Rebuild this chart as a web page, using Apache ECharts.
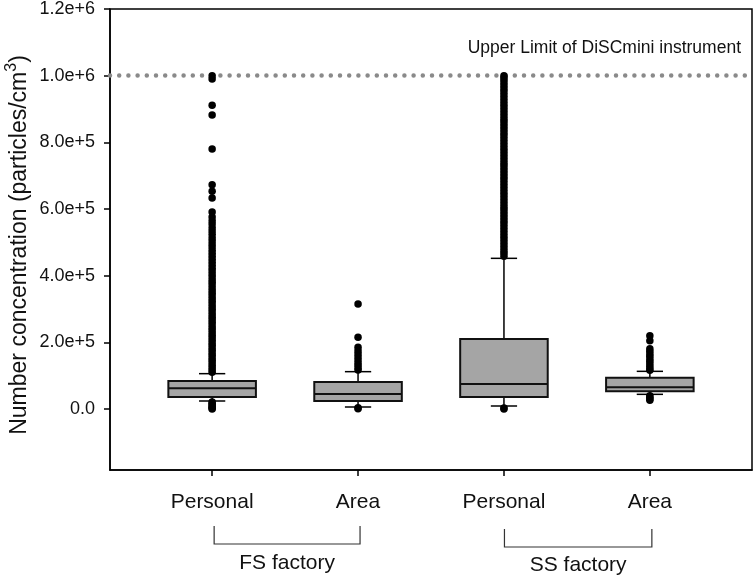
<!DOCTYPE html>
<html><head><meta charset="utf-8">
<script src="https://cdn.jsdelivr.net/npm/echarts@6/dist/echarts.min.js"></script>
<style>html,body{margin:0;padding:0;background:#fff}#c{width:756px;height:577px}</style>
</head><body><div id="c"></div>
<script>
// ---------- data ----------
const groups = ['Personal', 'Area', 'Personal', 'Area'];
const groupX = [1, 2, 3, 4];
const factories = ['FS factory', 'SS factory'];
const yTicks = [0, 200000, 400000, 600000, 800000, 1000000, 1200000];
// [lower whisker, Q1, median, Q3, upper whisker]
const boxFSPersonal = [24000, 36000, 62000, 84000, 106000];
const boxFSArea     = [6000, 24000, 45000, 81000, 112000];
const boxSSPersonal = [9000, 36000, 75000, 210000, 452000];
const boxSSArea     = [44000, 53000, 65000, 94000, 113000];
const outFSPersonal = [21000, 17000, 13000, 9000, 5000, 2000, 0,
  110000, 117000, 124000, 131000, 139000, 146000, 153000, 161000, 168000, 176000, 183000, 191000, 198000,
  206000, 214000, 221000, 229000, 237000, 244000, 252000, 260000, 268000, 275000, 283000, 291000, 299000,
  307000, 315000, 323000, 331000, 339000, 347000, 355000, 363000, 372000, 380000, 388000, 397000, 405000,
  414000, 422000, 431000, 440000, 449000, 458000, 467000, 476000, 486000, 495000, 505000, 514000, 524000,
  534000, 544000, 555000, 565000, 576000, 591000, 633000, 653000, 673000, 780000, 882000, 911000, 990000, 1000000];
const outFSArea = [4000, 1000, 117000, 123000, 131000, 139000, 148000, 157000, 166000, 175000, 185000, 215000, 315000];
const outSSPersonal = [3000, 0,
  458000, 467000, 475000, 484000, 493000, 502000, 511000, 519000, 528000, 537000, 546000, 555000, 563000,
  572000, 581000, 590000, 599000, 607000, 616000, 625000, 634000, 643000, 651000, 660000, 669000, 678000,
  687000, 695000, 704000, 713000, 722000, 731000, 739000, 748000, 757000, 766000, 775000, 783000, 792000,
  801000, 810000, 819000, 827000, 836000, 845000, 854000, 863000, 871000, 880000, 889000, 898000, 907000,
  915000, 924000, 933000, 942000, 951000, 959000, 968000, 977000, 986000, 994000, 1000000];
const outSSArea = [40000, 35000, 30000, 26000,
  116000, 121000, 128000, 136000, 143000, 150000, 158000, 165000, 173000, 181000, 205000, 220000];
const limitValue = 1000000;
const limitLabel = 'Upper Limit of DiSCmini instrument';
const yTitleMain = 'Number concentration (particles/cm';

const boxes = [boxFSPersonal, boxFSArea, boxSSPersonal, boxSSArea];
const outliers = [outFSPersonal, outFSArea, outSSPersonal, outSSArea];

const boxData = boxes.map((b, i) => [groupX[i]].concat(b));
const outData = [];
outliers.forEach((arr, i) => arr.forEach(v => outData.push([groupX[i], v])));

const FONT = '"Liberation Sans", Arial, sans-serif';

function renderBox(params, api) {
  const x = api.value(0);
  const lo = api.coord([x, api.value(1)]);
  const q1 = api.coord([x, api.value(2)]);
  const md = api.coord([x, api.value(3)]);
  const q3 = api.coord([x, api.value(4)]);
  const hi = api.coord([x, api.value(5)]);
  const half = api.size([0.3, 0])[0];
  const cap = api.size([0.09, 0])[0];
  const cx = lo[0];
  const ls = { stroke: '#000', lineWidth: 1.5 };
  return {
    type: 'group',
    children: [
      { type: 'line', shape: { x1: cx, y1: hi[1], x2: cx, y2: q3[1] }, style: ls },
      { type: 'line', shape: { x1: cx, y1: q1[1], x2: cx, y2: lo[1] }, style: ls },
      { type: 'line', shape: { x1: cx - cap, y1: hi[1], x2: cx + cap, y2: hi[1] }, style: ls },
      { type: 'line', shape: { x1: cx - cap, y1: lo[1], x2: cx + cap, y2: lo[1] }, style: ls },
      { type: 'rect', shape: { x: cx - half, y: q3[1], width: 2 * half, height: q1[1] - q3[1] },
        style: { fill: '#a5a5a5', stroke: '#111', lineWidth: 2 } },
      { type: 'line', shape: { x1: cx - half, y1: md[1], x2: cx + half, y2: md[1] },
        style: { stroke: '#111', lineWidth: 2 } }
    ]
  };
}

function fmtY(v) {
  if (v === 0) return '0.0';
  return v.toExponential(1);
}

const chart = echarts.init(document.getElementById('c'), null, { renderer: 'canvas' });
chart.setOption({
  animation: false,
  backgroundColor: '#fff',
  grid: { left: 110, top: 7, right: 4, bottom: 107, show: true, borderColor: '#000', borderWidth: 1.5, backgroundColor: 'transparent' },
  xAxis: {
    type: 'value', min: 0.3, max: 4.7,
    splitLine: { show: false },
    axisLine: { show: true, onZero: false, lineStyle: { color: '#000', width: 1.5 } },
    axisTick: { show: true, inside: false, length: 6, customValues: groupX, lineStyle: { color: '#000', width: 1.5 } },
    axisLabel: { customValues: groupX, margin: 22, fontSize: 21, color: '#111', fontFamily: FONT,
      formatter: v => groups[Math.round(v) - 1] }
  },
  yAxis: {
    type: 'value', min: -183000, max: 1200000,
    splitLine: { show: false },
    axisLine: { show: true, onZero: false, lineStyle: { color: '#000', width: 1.5 } },
    axisTick: { show: true, inside: false, length: 6, customValues: yTicks, lineStyle: { color: '#000', width: 1.5 } },
    axisLabel: { customValues: yTicks, margin: 15, fontSize: 18, color: '#111', fontFamily: FONT, formatter: fmtY }
  },
  series: [
    { type: 'custom', renderItem: renderBox, data: boxData, z: 2, silent: true },
    {
      type: 'scatter', data: outData, symbol: 'circle', symbolSize: 7.5, z: 3, silent: true,
      itemStyle: { color: '#000', opacity: 1 },
      markLine: {
        silent: true, symbol: 'none', z: 1,
        label: { show: false },
        lineStyle: { color: '#8a8a8a', width: 4.5, type: [0, 9.2], cap: 'round' },
        data: [{ yAxis: limitValue }]
      }
    }
  ]
});

const px = x => chart.convertToPixel({ xAxisIndex: 0 }, x);
const yLimit = chart.convertToPixel({ yAxisIndex: 0 }, limitValue);
const bline = { stroke: '#333', lineWidth: 1.2 };
const b1a = px(groupX[0]) + 2, b1b = px(groupX[1]) + 2;
const b2a = px(groupX[2]) + 0.5, b2b = px(groupX[3]) + 2;
chart.setOption({
  graphic: [
    { type: 'text', x: 741, y: yLimit - 27, style: { text: limitLabel, fontSize: 17.5, fontFamily: FONT, fill: '#111', align: 'right', verticalAlign: 'middle' } },
    { type: 'text', x: 20, y: 245, rotation: Math.PI / 2,
      style: { text: '{a|' + yTitleMain + '}{s|3}{a|)}', align: 'center', verticalAlign: 'middle', fill: '#111',
        rich: { a: { fontSize: 23, fontFamily: FONT, fill: '#111', lineHeight: 32 },
                s: { fontSize: 16, fontFamily: FONT, fill: '#111', verticalAlign: 'top', lineHeight: 32 } } } },
    { type: 'polyline', shape: { points: [[b1a, 526], [b1a, 544], [b1b, 544], [b1b, 526]] }, style: Object.assign({ fill: null }, bline) },
    { type: 'polyline', shape: { points: [[b2a, 529], [b2a, 547], [b2b, 547], [b2b, 529]] }, style: Object.assign({ fill: null }, bline) },
    { type: 'text', x: (b1a + b1b) / 2, y: 563, style: { text: factories[0], fontSize: 21, fontFamily: FONT, fill: '#111', align: 'center', verticalAlign: 'middle' } },
    { type: 'text', x: (b2a + b2b) / 2, y: 565, style: { text: factories[1], fontSize: 21, fontFamily: FONT, fill: '#111', align: 'center', verticalAlign: 'middle' } }
  ]
});
</script></body></html>
